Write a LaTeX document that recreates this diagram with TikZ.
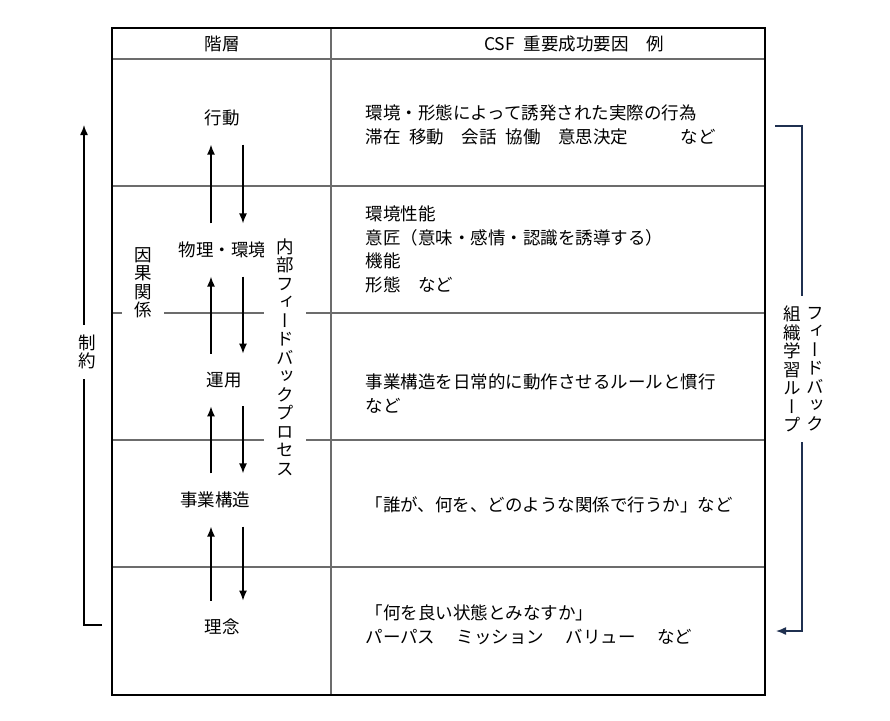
\documentclass[tikz,border=0pt]{standalone}
\usepackage{fontspec}
\setmainfont{Noto Sans CJK JP}
\newfontfamily\tatefont[RawFeature=+vert]{Noto Sans CJK JP}
\usetikzlibrary{arrows.meta}
\definecolor{loopnavy}{HTML}{1F3050}

\begin{document}
\begin{tikzpicture}[x=1pt,y=-1pt,
		every node/.style={font=\fontsize{17.5}{23.5}\selectfont},
		rowline/.style={draw=gray!85!black, line width=1.5pt},
		tip/.style={-{Latex[length=10pt,width=8pt]}},
		updown/.style={tip, line width=1.4pt, shorten >=15pt, shorten <=15pt},
		tate/.style={font=\tatefont\fontsize{17.5}{18.5}\selectfont, align=center, fill=white, inner xsep=12pt, inner ysep=3pt},
		desc/.style={anchor=west, align=left}]
	\useasboundingbox (0,0) rectangle (890,720);
	% table
	\draw[rowline] (331,28) -- (331,695);
	\foreach \y in {59,186,313,440,567}
		\draw[rowline] (112,\y) -- (765,\y);
	\draw[line width=2pt] (112,28) rectangle (765,695);
		\node (head1) at (222,44) {階層};
		\node (head2) at (574,44) {CSF\enspace 重要成功要因　例};
	% levels
		\node (act) at (222,118) {行動};
		\node[anchor=west] (phys) at (175,250) {物理・環境};
		\node (ops) at (224,380) {運用};
		\node (biz) at (215,500) {事業構造};
		\node (idea) at (222,627) {理念};
		\coordinate (upx) at (211,0);
		\coordinate (dnx) at (243,0);
	\foreach \a/\b in {act/phys,phys/ops,ops/biz,biz/idea}{
		\draw[updown] (\b.north -| upx) -- (\a.south -| upx);
		\draw[updown] (\a.south -| dnx) -- (\b.north -| dnx);
	}
		\node[tate] (cause) at (143,283) {因\\果\\関\\係};
		\node[tate] (inner) at (285,357) {内\\部\\フ\\ィ\\ー\\ド\\バ\\ッ\\ク\\プ\\ロ\\セ\\ス};
	% constraint arrow
		\coordinate (limbot) at (102,625);
		\coordinate (limtop) at (84,125);
	\draw[tip, line width=1.4pt] (limbot) -- (limbot -| limtop) -- (limtop);
		\node[tate, inner ysep=10pt] (limit) at (87,352) {制\\約};
	% feedback loop
		\coordinate (fbstart) at (775,126);
		\coordinate (fbend) at (776,631);
		\coordinate (fbx) at (802,0);
	\draw[loopnavy, tip, line width=1.4pt] (fbstart) -- (fbstart -| fbx) -- (fbend -| fbx) -- (fbend);
		\node[tate, inner xsep=7pt, inner ysep=10pt] (fb2) at (792,369) {組\\織\\学\\習\\ル\\ー\\プ};
		\node[tate, inner xsep=3pt, inner ysep=10pt] (fb1) at (815,369) {フ\\ィ\\ー\\ド\\バ\\ッ\\ク};
	% examples
		\node[desc] (d1) at (362,125) {環境・形態によって誘発された実際の行為\\滞在\enspace 移動　会話\enspace 協働　意思決定　　　など};
		\node[desc] (d2) at (362,249.5) {環境性能\\意匠（意味・感情・認識を誘導する）\\機能\\形態　など};
		\node[desc] (d3) at (362,393.5) {事業構造を日常的に動作させるルールと慣行\\など};
		\node[desc] (d4) at (362,505) {「誰が、何を、どのような関係で行うか」など};
		\node[desc] (d5) at (362,624.5) {「何を良い状態とみなすか」\\パーパス　 ミッション　 バリュー　 など};
\end{tikzpicture}
\end{document}
